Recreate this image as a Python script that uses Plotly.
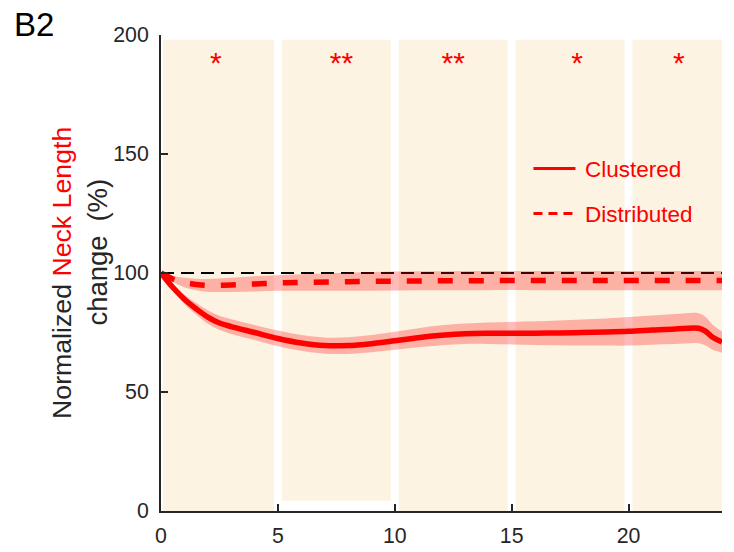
import plotly.graph_objects as go

# ---------------- data ----------------
time_clu = [0, 0.5, 1, 1.5, 2, 2.5, 3, 4, 5, 6, 7, 8, 9, 10, 11, 12, 13, 14, 15, 16,
            17, 18, 19, 20, 21, 22, 23, 23.3, 23.6, 24]
clu_mean = [100, 94, 89, 85, 81.5, 79, 77.5, 75, 72.5, 70.6, 69.5, 69.5, 70.3, 71.5, 72.8,
            73.8, 74.5, 74.7, 74.7, 74.7, 74.8, 75, 75.2, 75.5, 76, 76.5, 76.8, 75.5, 73, 71]
clu_sem = [0.5, 1.3, 2, 2.4, 2.8, 3, 3.1, 3.2, 3.3, 3.3, 3.4, 3.5, 3.6, 3.8, 4, 4.2, 4.3,
           4.5, 4.7, 5, 5.2, 5.5, 5.7, 6, 6.1, 6.3, 6.3, 6, 5.3, 4.5]

time_dis = [0, 0.5, 1, 1.5, 2, 3, 4, 5, 6, 8, 10, 12, 14, 16, 18, 20, 22, 24]
dis_mean = [100, 97.5, 96, 95.2, 94.8, 95, 95.4, 95.8, 96, 96.3, 96.6, 96.7, 96.8, 96.8,
            96.8, 96.8, 96.8, 96.8]
dis_sem = [0.3, 1.2, 2, 2.4, 2.7, 3, 3.2, 3.3, 3.5, 3.8, 4, 4, 4, 4, 4, 4, 4, 4]

baseline_x = [0, 24]
baseline_y = [100, 100]

star_x = [2.35, 7.72, 12.5, 17.8, 22.15]
star_y = [187, 187, 187, 187, 187]
star_labels = ["*", "**", "**", "*", "*"]

block_x0 = [0.08, 5.17, 10.17, 15.17, 20.17]
block_x1 = [4.83, 9.83, 14.83, 19.83, 24]
block_y0 = [0, 4.3, 0, 0, 0]
block_y1 = [198, 198, 198, 198, 198]

x_ticks = [0, 5, 10, 15, 20]
y_ticks = [0, 50, 100, 150, 200]

# ---------------- styles ----------------
RED = "#FF0000"
BAND = "rgba(255,0,0,0.27)"
CREAM = "#FDF3E2"
AXIS = "#262626"
FONT = "Liberation Sans, Arial, sans-serif"

fig = go.Figure()

# baseline
fig.add_trace(go.Scatter(x=baseline_x, y=baseline_y, mode="lines",
                         line=dict(color="black", width=2, dash="13px,7px"),
                         showlegend=False, hoverinfo="skip"))

# bands
def add_band(t, m, s):
    lo = [a - b for a, b in zip(m, s)]
    hi = [a + b for a, b in zip(m, s)]
    fig.add_trace(go.Scatter(x=t, y=lo, mode="lines", line=dict(width=0, shape="spline"),
                             showlegend=False, hoverinfo="skip"))
    fig.add_trace(go.Scatter(x=t, y=hi, mode="lines", line=dict(width=0, shape="spline"),
                             fill="tonexty", fillcolor=BAND,
                             showlegend=False, hoverinfo="skip"))

add_band(time_dis, dis_mean, dis_sem)
add_band(time_clu, clu_mean, clu_sem)

# mean lines
fig.add_trace(go.Scatter(x=time_dis, y=dis_mean, mode="lines",
                         line=dict(color=RED, width=5.5, dash="15px,16px", shape="spline"),
                         showlegend=False))
fig.add_trace(go.Scatter(x=time_clu, y=clu_mean, mode="lines",
                         line=dict(color=RED, width=5.5, shape="spline"),
                         showlegend=False))

# stars
fig.add_trace(go.Scatter(x=star_x, y=star_y, mode="text", text=star_labels,
                         textfont=dict(color=RED, size=30, family=FONT),
                         showlegend=False, hoverinfo="skip"))

# legend entries
fig.add_trace(go.Scatter(x=[None], y=[None], mode="lines", name="\u2009Clustered",
                         line=dict(color=RED, width=3), legend="legend"))
fig.add_trace(go.Scatter(x=[None], y=[None], mode="lines", name="\u2009Distributed",
                         line=dict(color=RED, width=3, dash="9px,6px"), legend="legend2"))

# background blocks
for x0, x1, y0, y1 in zip(block_x0, block_x1, block_y0, block_y1):
    fig.add_shape(type="rect", xref="x", yref="y", x0=x0, x1=x1, y0=y0, y1=y1,
                  fillcolor=CREAM, line=dict(width=0), layer="below")

legend_common = dict(bgcolor="rgba(0,0,0,0)", borderwidth=0,
                     font=dict(color=RED, size=22.5, family=FONT),
                     itemwidth=42, xanchor="left", yanchor="middle")

fig.update_layout(
    width=734, height=552,
    margin=dict(l=161, r=12, t=35, b=41),
    plot_bgcolor="white", paper_bgcolor="white",
    font=dict(family=FONT, color=AXIS),
    legend=dict(x=0.655, y=0.7185, **legend_common),
    legend2=dict(x=0.655, y=0.624, **legend_common),
    xaxis=dict(range=[0, 24], tickvals=x_ticks, showgrid=False, zeroline=False,
               showline=True, linecolor=AXIS, linewidth=2, automargin=False,
               ticks="inside", ticklen=7, tickwidth=2, tickcolor=AXIS,
               tickfont=dict(size=21.3, color=AXIS, family=FONT), ticklabelstandoff=4),
    yaxis=dict(range=[0, 200], tickvals=y_ticks, showgrid=False, zeroline=False,
               showline=True, linecolor=AXIS, linewidth=2, automargin=False,
               ticks="inside", ticklen=7, tickwidth=2, tickcolor=AXIS,
               tickfont=dict(size=21.3, color=AXIS, family=FONT), ticklabelstandoff=6),
    annotations=[
        dict(text="B2", x=-0.2656, y=1.022, xref="paper", yref="paper",
             xanchor="left", yanchor="middle", showarrow=False,
             font=dict(size=33, color="black", family=FONT)),
        dict(text='Normalized <span style="color:#FF0000">Neck Length</span>',
             x=-0.1765, y=0.5, xref="paper", yref="paper", textangle=-90,
             xanchor="center", yanchor="middle", showarrow=False,
             font=dict(size=26.7, color=AXIS, family=FONT)),
        dict(text="change\u2002(%)",
             x=-0.1123, y=0.545, xref="paper", yref="paper", textangle=-90,
             xanchor="center", yanchor="middle", showarrow=False,
             font=dict(size=27.5, color=AXIS, family=FONT)),
    ],
)

fig.write_html("out.html")
